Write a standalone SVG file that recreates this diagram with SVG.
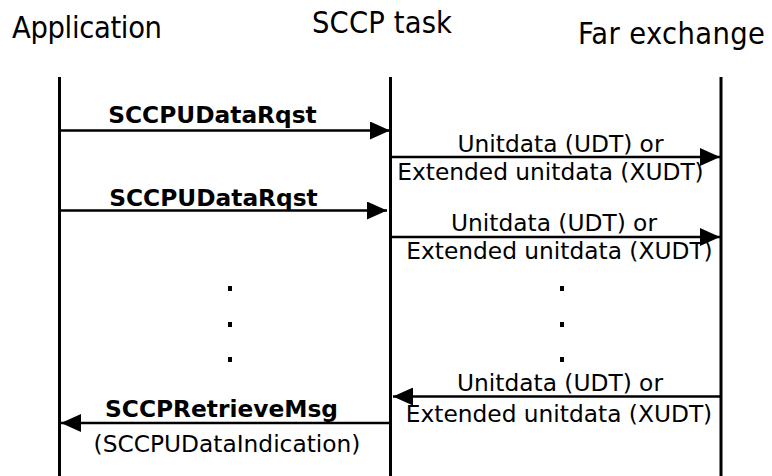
<svg xmlns="http://www.w3.org/2000/svg" width="772" height="476" viewBox="0 0 772 476">
  <style>
    .hdr { font-family: "DejaVu Sans Condensed", "DejaVu Sans", sans-serif; font-size: 30.5px; fill: #000; }
    .life { stroke: #000; stroke-width: 3; fill: none; }
    .msg { stroke: #000; stroke-width: 2.7; fill: none; marker-end: url(#ah); }
    .lbl { font-family: "DejaVu Sans", Verdana, sans-serif; font-size: 23.3px; fill: #000; text-anchor: middle; }
    .b { font-weight: bold; }
    .dot { fill: #000; }
  </style>
  <defs>
    <marker id="ah" viewBox="0 0 20 18" refX="20" refY="9" markerWidth="20" markerHeight="18" markerUnits="userSpaceOnUse" orient="auto">
      <path d="M0,0 L20,9 L0,18 Z" fill="#000"/>
    </marker>
  </defs>
  <rect width="772" height="476" fill="#fff"/>
  <g id="application">
    <text class="hdr" x="12" y="38" textLength="150">Application</text>
    <line class="life" x1="59.5" y1="77" x2="59.5" y2="476"/>
  </g>
  <g id="sccp-task">
    <text class="hdr" x="312" y="33" textLength="140">SCCP task</text>
    <line class="life" x1="390.5" y1="77" x2="390.5" y2="476"/>
  </g>
  <g id="far-exchange">
    <text class="hdr" x="578" y="44" textLength="187">Far exchange</text>
    <line class="life" x1="721" y1="77" x2="721" y2="476"/>
  </g>
  <g id="connectors">
    <line class="msg" x1="61" y1="130.5" x2="390" y2="130.5"/>
    <line class="msg" x1="391" y1="157" x2="720" y2="157"/>
    <line class="msg" x1="61" y1="210.5" x2="387" y2="210.5"/>
    <line class="msg" x1="391" y1="237" x2="720" y2="237"/>
    <line class="msg" x1="720" y1="396.5" x2="393" y2="396.5"/>
    <line class="msg" x1="390" y1="423" x2="61" y2="423"/>
    <text class="lbl b" x="212.5" y="123">SCCPUDataRqst</text>
    <text class="lbl" x="560.5" y="151.5">Unitdata (UDT) or</text>
    <text class="lbl" x="550.5" y="180">Extended unitdata (XUDT)</text>
    <text class="lbl b" x="213.5" y="206">SCCPUDataRqst</text>
    <text class="lbl" x="554" y="231">Unitdata (UDT) or</text>
    <text class="lbl" x="559.5" y="259">Extended unitdata (XUDT)</text>
    <text class="lbl" x="560" y="390.5">Unitdata (UDT) or</text>
    <text class="lbl" x="559" y="421.5">Extended unitdata (XUDT)</text>
    <text class="lbl b" x="221.5" y="416.5">SCCPRetrieveMsg</text>
    <text class="lbl" x="227" y="451.5">(SCCPUDataIndication)</text>
  </g>
  <g id="ellipsis">
    <rect class="dot" x="228" y="286" width="4" height="5"/>
    <rect class="dot" x="228" y="322" width="4" height="5"/>
    <rect class="dot" x="228" y="357" width="4" height="5"/>
    <rect class="dot" x="560" y="286" width="4" height="5"/>
    <rect class="dot" x="560" y="322" width="4" height="5"/>
    <rect class="dot" x="560" y="357" width="4" height="5"/>
  </g>
</svg>
